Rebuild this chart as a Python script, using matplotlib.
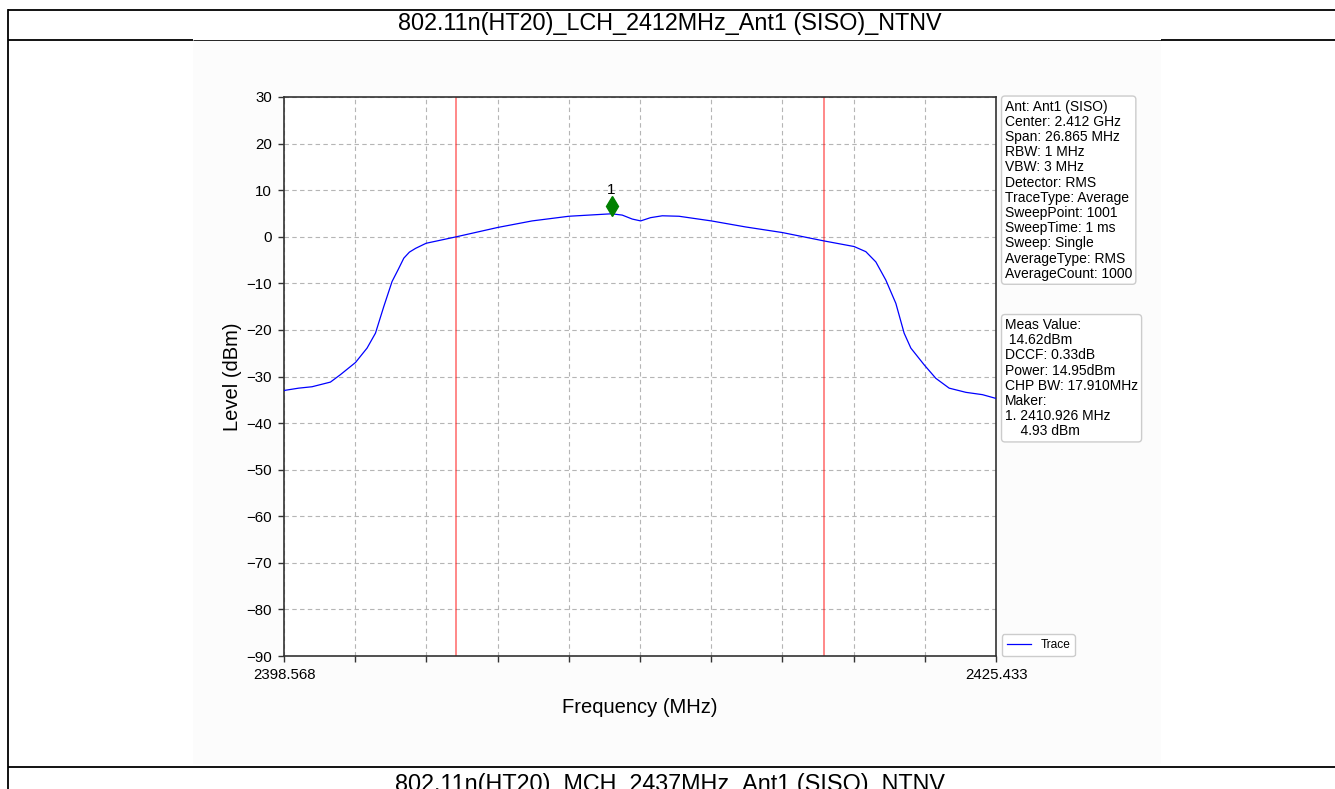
import numpy as np
import matplotlib
matplotlib.use("Agg")
import matplotlib.pyplot as plt
from matplotlib.lines import Line2D
from matplotlib.patches import Rectangle

plt.rcParams['font.family'] = ['Liberation Sans', 'DejaVu Sans']

# --- данные ---
f_start, f_stop = 2398.568, 2425.433
trace_freq = [2398.568, 2399.123, 2399.625, 2400.320, 2400.698, 2401.264, 2401.702,
              2402.019, 2402.332, 2402.646, 2402.880, 2403.088, 2403.300, 2403.530, 2403.930,
              2405.078, 2406.637, 2407.932, 2409.318, 2410.926, 2411.330, 2411.707,
              2412.025, 2412.400, 2412.841, 2413.471, 2414.691, 2415.990, 2417.372, 2418.946,
              2420.079, 2420.521, 2420.899, 2421.276, 2421.654, 2421.967, 2422.220,
              2422.723, 2423.164, 2423.666, 2424.297, 2424.923, 2425.365, 2425.433]
trace_level = [-33.0, -32.5, -32.2, -31.2, -29.6, -27.0, -23.9,
               -20.7, -15.0, -9.6, -7.0, -4.6, -3.3, -2.5, -1.4,
               0.0, 2.0, 3.4, 4.4, 4.93, 4.65, 3.8,
               3.4, 4.1, 4.5, 4.4, 3.4, 2.1, 0.9, -0.9,
               -2.1, -3.2, -5.4, -9.3, -14.3, -20.7, -23.9,
               -27.5, -30.4, -32.5, -33.4, -33.9, -34.6, -34.7]
obw_lines = [2405.05, 2418.95]
marker_freq, marker_level = 2410.926, 4.93

title_top = "802.11n(HT20)_LCH_2412MHz_Ant1 (SISO)_NTNV"
title_next = "802.11n(HT20)_MCH_2437MHz_Ant1 (SISO)_NTNV"
setup_lines = ["Ant: Ant1 (SISO)", "Center: 2.412 GHz", "Span: 26.865 MHz", "RBW: 1 MHz",
               "VBW: 3 MHz", "Detector: RMS", "TraceType: Average", "SweepPoint: 1001",
               "SweepTime: 1 ms", "Sweep: Single", "AverageType: RMS", "AverageCount: 1000"]
result_lines = ["Meas Value:", " 14.62dBm", "DCCF: 0.33dB", "Power: 14.95dBm",
                "CHP BW: 17.910MHz", "Maker:", "1. 2410.926 MHz", "    4.93 dBm"]

W, H = 1335, 789


def fx(px):
    return px / W


def fy(py):
    return 1 - py / H


fig = plt.figure(figsize=(W / 100, H / 100), dpi=100)
fig.patch.set_facecolor('white')

# фон картинки графика
fig.add_artist(Rectangle((fx(193), fy(764)), fx(1161) - fx(193), fy(40) - fy(764),
                         transform=fig.transFigure, facecolor='#fcfcfc', edgecolor='none', zorder=0))

# линии таблицы
lw_tab = 1.3
for x0, x1, y, lw in [(7.5, 1335, 10, lw_tab), (7.5, 193, 39.5, lw_tab), (1161, 1335, 39.5, lw_tab),
                      (193, 1161, 39.5, 0.6), (7.5, 1335, 766.5, lw_tab)]:
    fig.add_artist(Line2D([fx(x0), fx(x1)], [fy(y), fy(y)], transform=fig.transFigure,
                          color='black', lw=lw, solid_capstyle='butt'))
fig.add_artist(Line2D([fx(7.5), fx(7.5)], [fy(10), fy(789)], transform=fig.transFigure,
                      color='black', lw=lw_tab))

fig.text(fx(670), fy(30), title_top, ha='center', va='baseline', fontsize=16.8)
fig.text(fx(670), fy(791.5), title_next, ha='center', va='baseline', fontsize=16.8)

# оси
ax = fig.add_axes([fx(284), fy(656), fx(996) - fx(284), fy(97) - fy(656)])
ax.set_facecolor('white')
ax.plot(trace_freq, trace_level, color='blue', lw=0.9, label='Trace', zorder=3)
for f_line in obw_lines:
    ax.axvline(f_line, color='red', alpha=0.5, lw=1.3, zorder=2)

ax.plot([marker_freq], [marker_level], marker='d', color='green', markersize=10,
        linestyle='none', zorder=4,
        transform=ax.transData + matplotlib.transforms.ScaledTranslation(0, 8 / 100, fig.dpi_scale_trans))
ax.annotate("1", (marker_freq, marker_level), xytext=(0, 24), textcoords='offset pixels',
            ha='center', va='center', fontsize=11)

xt = np.linspace(f_start, f_stop, 11)
ax.set_xticks(xt)
ax.set_xticklabels([f"{f_start:.3f}"] + [""] * 9 + [f"{f_stop:.3f}"])
ax.set_xlim(f_start, f_stop)
ax.set_ylim(-90, 30)
ax.set_yticks(np.arange(-90, 31, 10))
ax.grid(True, linestyle=(0, (4, 3)), color='#b5b5b5', lw=0.8)
ax.tick_params(labelsize=10.8, length=4, width=1, color='#333333', pad=4.5)
for sp in ax.spines.values():
    sp.set_color('#333333')
    sp.set_linewidth(1.2)

ax.set_xlabel("Frequency (MHz)", fontsize=14.5, labelpad=12)
ax.set_ylabel("Level (dBm)", fontsize=14.5, labelpad=3)

leg = ax.legend(loc='lower left', bbox_to_anchor=(1 + 6 / 712, 0), borderaxespad=0,
                fontsize=8.6, fancybox=True, framealpha=1, edgecolor='#cccccc')

box = dict(boxstyle='round,pad=0.25', facecolor='white', edgecolor='#cccccc', lw=1)
fig.text(fx(1005), fy(99.5), "\n".join(setup_lines), ha='left', va='top', fontsize=10,
         linespacing=1.11, bbox=box)
fig.text(fx(1005), fy(318), "\n".join(result_lines), ha='left', va='top', fontsize=10,
         linespacing=1.11, bbox=box)

fig.savefig("out.png", dpi=100)
